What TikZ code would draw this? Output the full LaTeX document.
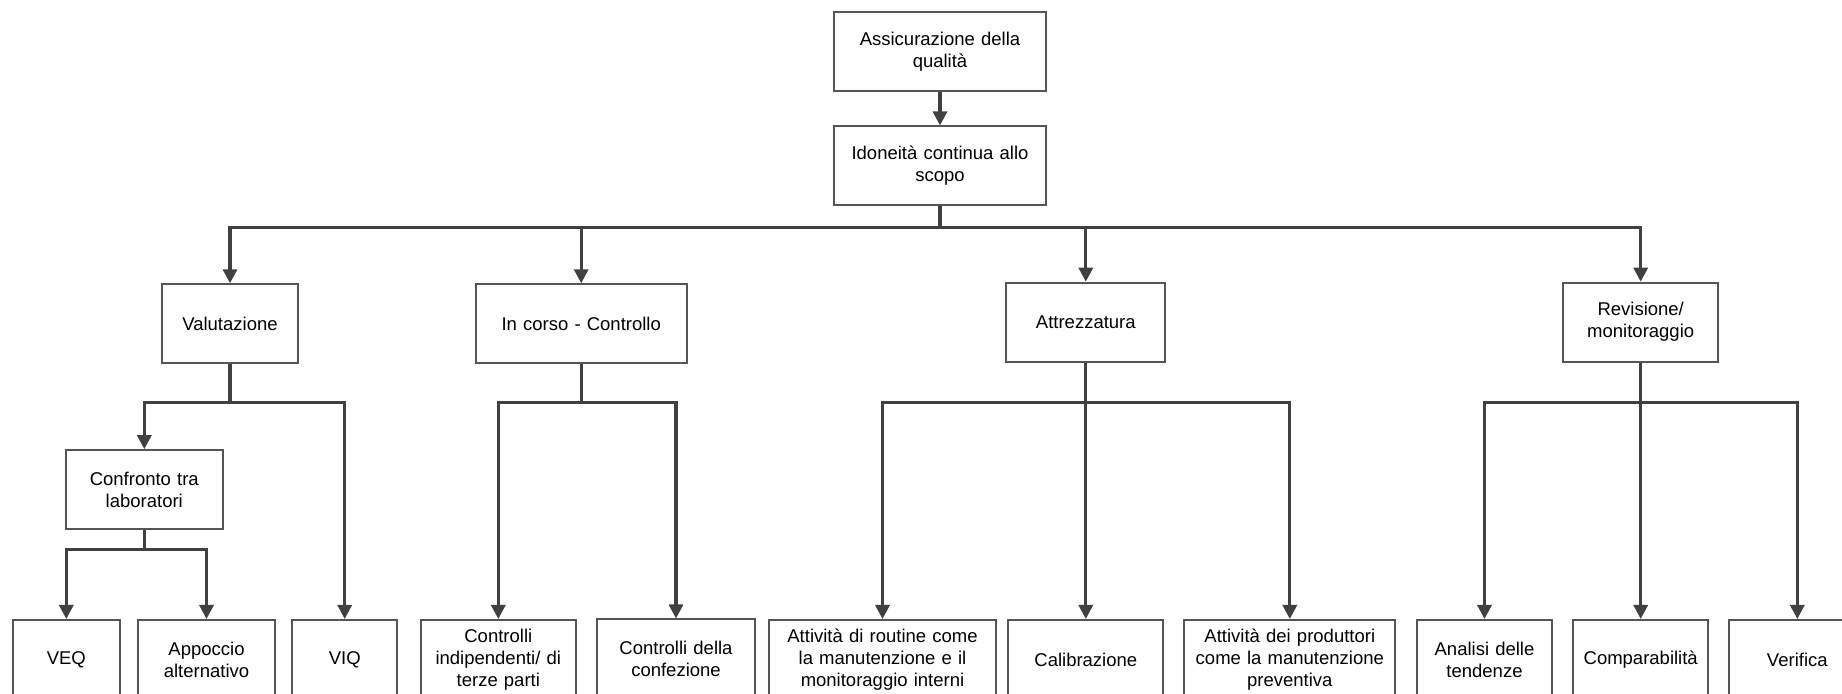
\documentclass[tikz,border=0pt]{standalone}
\usepackage{fontspec}
\setmainfont{Liberation Sans}
\usetikzlibrary{arrows.meta}
\definecolor{linegray}{HTML}{404040}
\definecolor{boxgray}{HTML}{555555}

\begin{document}
\begin{tikzpicture}[x=0.5pt,y=-0.5pt,
  box/.style={draw=boxgray,line width=1pt,align=center,inner xsep=0pt,inner ysep=2pt,
    minimum height=39.5pt,font=\fontsize{9.25}{11}\selectfont},
  conn/.style={draw=linegray,line width=1.6pt,-{Triangle[length=7pt,width=7pt]}}]
  \useasboundingbox (0,0) rectangle (1842,694);

  %top of the tree
  \node[box,text width=105.7pt] (qa) at (940,51.7) {Assicurazione della\\qualità};
  \node[box,text width=105.7pt] (idon) at (940,166) {Idoneità continua allo\\scopo};

  %second level
  \node[box,text width=67.7pt] (val) at (230,323.8) {Valutazione};
  \node[box,text width=105.5pt] (inc) at (581.2,323.8) {In corso - Controllo};
  \node[box,text width=79.5pt] (att) at (1085.8,322.2) {Attrezzatura};
  \node[box,text width=77.7pt] (rev) at (1640.7,322.2) {Revisione/\\monitoraggio};

  %third level
  \node[box,text width=78.3pt] (conf) at (144.3,489.7) {Confronto tra\\laboratori};

  %leaves
  \node[box,text width=53.7pt] (veq) at (66.3,659.5) {VEQ};
  \node[box,text width=68.8pt] (app) at (206.5,659.5) {Appoccio\\alternativo};
  \node[box,text width=52.3pt] (viq) at (344.7,659.5) {VIQ};
  \node[box,text width=77.3pt] (cind) at (498.3,659.5) {Controlli\\indipendenti/ di\\terze parti};
  \node[box,text width=79pt] (cconf) at (676,659) {Controlli della\\confezione};
  \node[box,text width=113.2pt] (rout) at (882.5,659.5) {Attività di routine come\\la manutenzione e il\\monitoraggio interni};
  \node[box,text width=77.5pt] (cal) at (1085.8,659.5) {Calibrazione};
  \node[box,text width=105.6pt] (prod) at (1289.8,659.5) {Attività dei produttori\\come la manutenzione\\preventiva};
  \node[box,text width=67.8pt] (tend) at (1484.5,659.5) {Analisi delle\\tendenze};
  \node[box,text width=67.7pt] (comp) at (1640.7,659.5) {Comparabilità};
  \node[box,text width=68pt] (verif) at (1797.3,659.5) {Verifica};

  %connectors
  \draw[conn] (qa) -- (idon);
  \foreach \t in {val,inc,att,rev}
    \draw[conn] (idon.south) -- ++(0,20.7) -| (\t.north);
  \foreach \t in {conf,viq}
    \draw[conn] (val.south) -- ++(0,38.4) -| (\t.north);
  \foreach \t in {veq,app}
    \draw[conn] (conf.south) -- ++(0,19.3) -| (\t.north);
  \foreach \t in {cind,cconf}
    \draw[conn] (inc.south) -- ++(0,38.4) -| (\t.north);
  \foreach \t in {rout,cal,prod}
    \draw[conn] (att.south) -- ++(0,40) -| (\t.north);
  \foreach \t in {tend,comp,verif}
    \draw[conn] (rev.south) -- ++(0,40) -| (\t.north);
\end{tikzpicture}
\end{document}
